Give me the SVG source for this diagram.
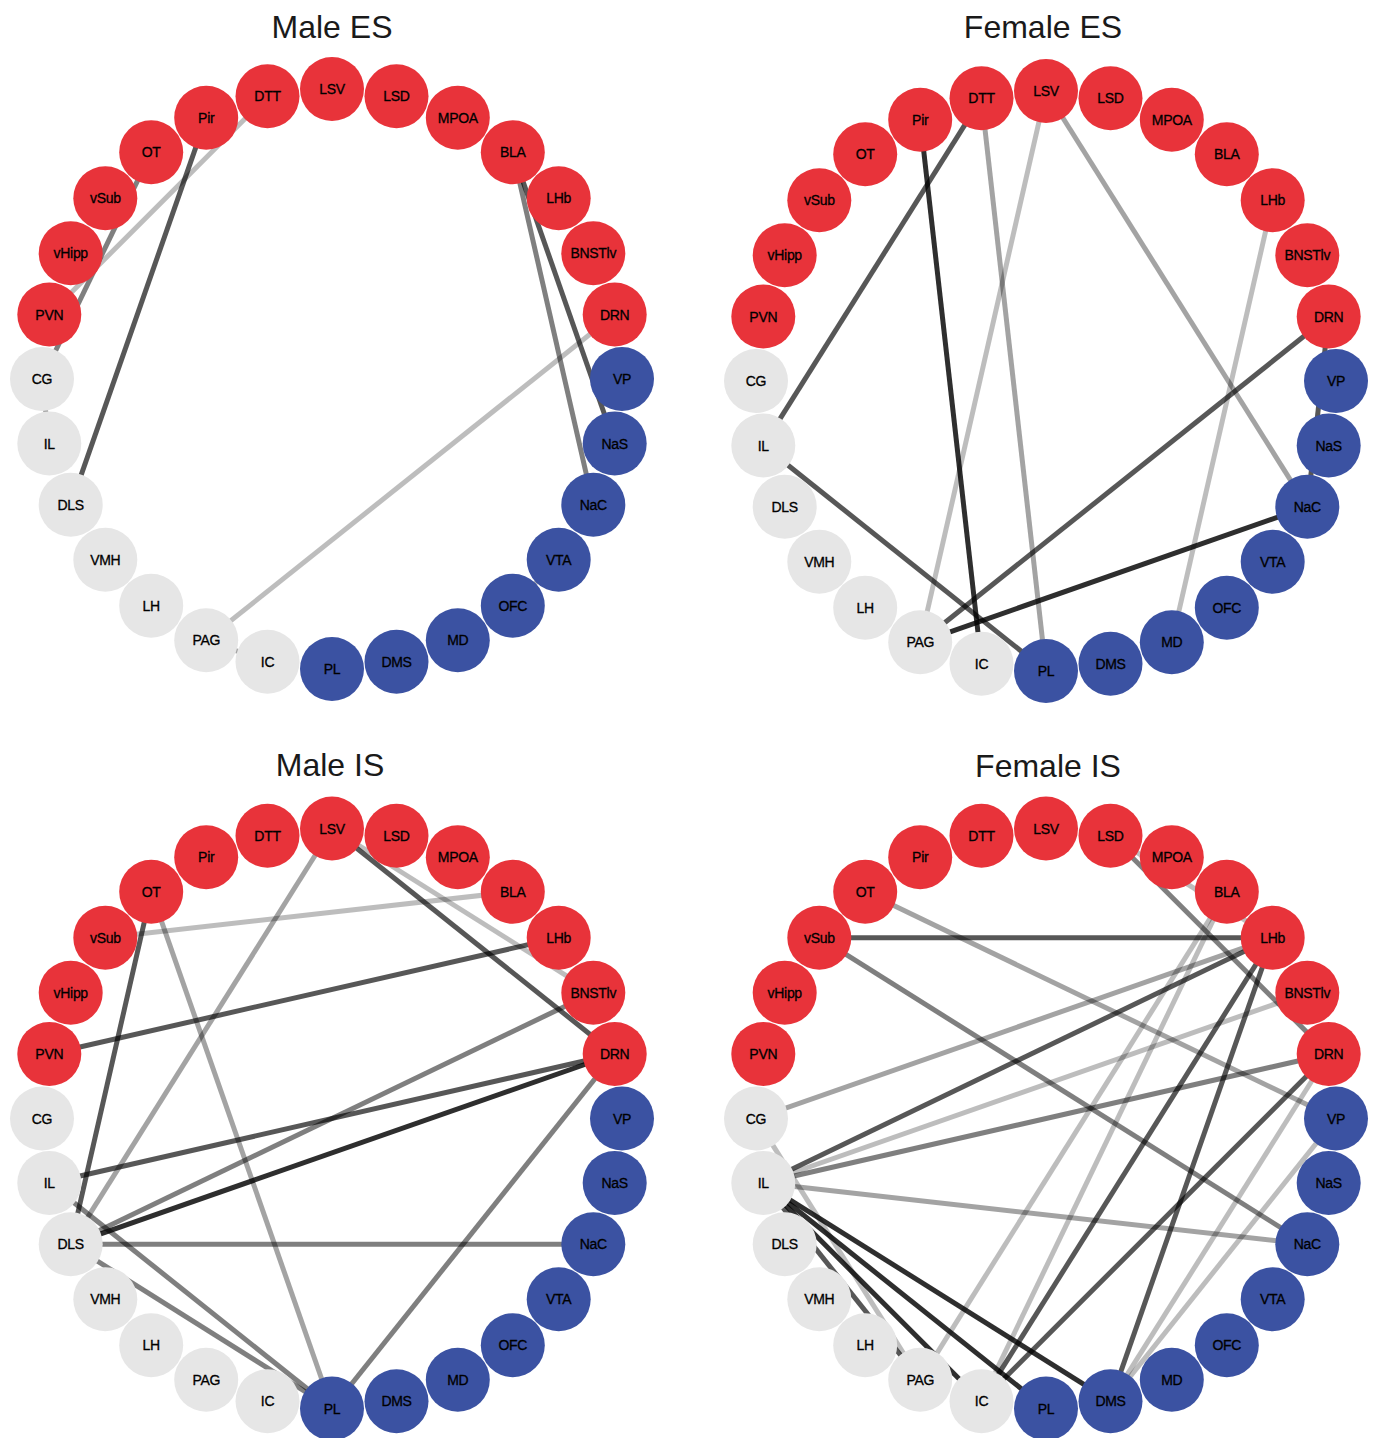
<svg xmlns="http://www.w3.org/2000/svg" width="1376" height="1438" viewBox="0 0 1376 1438">
<style>
.title{font-family:"Liberation Sans",Arial,sans-serif;font-size:32px;fill:#1a1a1a;text-anchor:middle}
.r{fill:#e8333a}
.b{fill:#3b52a2}
.g{fill:#e6e6e6}
.nodes text{font-family:"Liberation Sans",Arial,sans-serif;font-size:14px;fill:#000;stroke:#000;stroke-width:0.3px;text-anchor:middle;letter-spacing:-0.3px}
.edges line{stroke:#000;stroke-width:5;fill:none}
.w1{stroke-opacity:.26}
.w2{stroke-opacity:.36}
.w3{stroke-opacity:.5}
.w4{stroke-opacity:.66}
.w5{stroke-opacity:.82}
.thin{stroke-width:2.5}
</style>
<rect width="1376" height="1438" fill="#fff"/>
<text class="title" x="332" y="38">Male ES</text>
<text class="title" x="1043" y="38">Female ES</text>
<text class="title" x="330" y="776">Male IS</text>
<text class="title" x="1048" y="777">Female IS</text>

<g id="male-es" transform="translate(332,379)">
<g id="mes-edges" class="edges">
<line class="w4" x1="-125.8" y1="-261.3" x2="-261.3" y2="125.8"/>
<line class="w1" x1="-64.5" y1="-282.7" x2="-282.7" y2="-64.5"/>
<line class="w3" x1="-180.8" y1="-226.7" x2="-290" y2="0"/>
<line class="w4" x1="180.8" y1="-226.7" x2="282.7" y2="64.5"/>
<line class="w3" x1="180.8" y1="-226.7" x2="261.3" y2="125.8"/>
<line class="w1" x1="282.7" y1="-64.5" x2="-125.8" y2="261.3"/>
<line class="w2" x1="-290" y1="0" x2="-282.7" y2="64.5"/>
<line class="w2" x1="-125.8" y1="261.3" x2="-64.5" y2="282.7"/>
<line class="w1" x1="226.7" y1="180.8" x2="180.8" y2="226.7"/>
</g>
<g id="mes-nodes" class="nodes">
<g id="mes-LSV"><circle class="r" cx="0" cy="-290" r="32"/><text x="0" y="-285">LSV</text></g>
<g id="mes-LSD"><circle class="r" cx="64.5" cy="-282.7" r="32"/><text x="64.5" y="-277.7">LSD</text></g>
<g id="mes-MPOA"><circle class="r" cx="125.8" cy="-261.3" r="32"/><text x="125.8" y="-256.3">MPOA</text></g>
<g id="mes-BLA"><circle class="r" cx="180.8" cy="-226.7" r="32"/><text x="180.8" y="-221.7">BLA</text></g>
<g id="mes-LHb"><circle class="r" cx="226.7" cy="-180.8" r="32"/><text x="226.7" y="-175.8">LHb</text></g>
<g id="mes-BNSTlv"><circle class="r" cx="261.3" cy="-125.8" r="32"/><text x="261.3" y="-120.8">BNSTlv</text></g>
<g id="mes-DRN"><circle class="r" cx="282.7" cy="-64.5" r="32"/><text x="282.7" y="-59.5">DRN</text></g>
<g id="mes-VP"><circle class="b" cx="290" cy="0" r="32"/><text x="290" y="5">VP</text></g>
<g id="mes-NaS"><circle class="b" cx="282.7" cy="64.5" r="32"/><text x="282.7" y="69.5">NaS</text></g>
<g id="mes-NaC"><circle class="b" cx="261.3" cy="125.8" r="32"/><text x="261.3" y="130.8">NaC</text></g>
<g id="mes-VTA"><circle class="b" cx="226.7" cy="180.8" r="32"/><text x="226.7" y="185.8">VTA</text></g>
<g id="mes-OFC"><circle class="b" cx="180.8" cy="226.7" r="32"/><text x="180.8" y="231.7">OFC</text></g>
<g id="mes-MD"><circle class="b" cx="125.8" cy="261.3" r="32"/><text x="125.8" y="266.3">MD</text></g>
<g id="mes-DMS"><circle class="b" cx="64.5" cy="282.7" r="32"/><text x="64.5" y="287.7">DMS</text></g>
<g id="mes-PL"><circle class="b" cx="0" cy="290" r="32"/><text x="0" y="295">PL</text></g>
<g id="mes-IC"><circle class="g" cx="-64.5" cy="282.7" r="32"/><text x="-64.5" y="287.7">IC</text></g>
<g id="mes-PAG"><circle class="g" cx="-125.8" cy="261.3" r="32"/><text x="-125.8" y="266.3">PAG</text></g>
<g id="mes-LH"><circle class="g" cx="-180.8" cy="226.7" r="32"/><text x="-180.8" y="231.7">LH</text></g>
<g id="mes-VMH"><circle class="g" cx="-226.7" cy="180.8" r="32"/><text x="-226.7" y="185.8">VMH</text></g>
<g id="mes-DLS"><circle class="g" cx="-261.3" cy="125.8" r="32"/><text x="-261.3" y="130.8">DLS</text></g>
<g id="mes-IL"><circle class="g" cx="-282.7" cy="64.5" r="32"/><text x="-282.7" y="69.5">IL</text></g>
<g id="mes-CG"><circle class="g" cx="-290" cy="0" r="32"/><text x="-290" y="5">CG</text></g>
<g id="mes-PVN"><circle class="r" cx="-282.7" cy="-64.5" r="32"/><text x="-282.7" y="-59.5">PVN</text></g>
<g id="mes-vHipp"><circle class="r" cx="-261.3" cy="-125.8" r="32"/><text x="-261.3" y="-120.8">vHipp</text></g>
<g id="mes-vSub"><circle class="r" cx="-226.7" cy="-180.8" r="32"/><text x="-226.7" y="-175.8">vSub</text></g>
<g id="mes-OT"><circle class="r" cx="-180.8" cy="-226.7" r="32"/><text x="-180.8" y="-221.7">OT</text></g>
<g id="mes-Pir"><circle class="r" cx="-125.8" cy="-261.3" r="32"/><text x="-125.8" y="-256.3">Pir</text></g>
<g id="mes-DTT"><circle class="r" cx="-64.5" cy="-282.7" r="32"/><text x="-64.5" y="-277.7">DTT</text></g>
</g>
</g>

<g id="female-es" transform="translate(1046,381)">
<g id="fes-edges" class="edges">
<line class="w4" x1="-64.5" y1="-282.7" x2="-282.7" y2="64.5"/>
<line class="w5" x1="-125.8" y1="-261.3" x2="-64.5" y2="282.7"/>
<line class="w2" x1="-64.5" y1="-282.7" x2="0" y2="290"/>
<line class="w1" x1="0" y1="-290" x2="-125.8" y2="261.3"/>
<line class="w4" x1="-282.7" y1="64.5" x2="0" y2="290"/>
<line class="w4" x1="282.7" y1="-64.5" x2="-125.8" y2="261.3"/>
<line class="w5" x1="261.3" y1="125.8" x2="-125.8" y2="261.3"/>
<line class="w2" x1="0" y1="-290" x2="261.3" y2="125.8"/>
<line class="w1" x1="226.7" y1="-180.8" x2="125.8" y2="261.3"/>
<line class="w4" x1="282.7" y1="-64.5" x2="261.3" y2="125.8"/>
</g>
<g id="fes-nodes" class="nodes">
<g id="fes-LSV"><circle class="r" cx="0" cy="-290" r="32"/><text x="0" y="-285">LSV</text></g>
<g id="fes-LSD"><circle class="r" cx="64.5" cy="-282.7" r="32"/><text x="64.5" y="-277.7">LSD</text></g>
<g id="fes-MPOA"><circle class="r" cx="125.8" cy="-261.3" r="32"/><text x="125.8" y="-256.3">MPOA</text></g>
<g id="fes-BLA"><circle class="r" cx="180.8" cy="-226.7" r="32"/><text x="180.8" y="-221.7">BLA</text></g>
<g id="fes-LHb"><circle class="r" cx="226.7" cy="-180.8" r="32"/><text x="226.7" y="-175.8">LHb</text></g>
<g id="fes-BNSTlv"><circle class="r" cx="261.3" cy="-125.8" r="32"/><text x="261.3" y="-120.8">BNSTlv</text></g>
<g id="fes-DRN"><circle class="r" cx="282.7" cy="-64.5" r="32"/><text x="282.7" y="-59.5">DRN</text></g>
<g id="fes-VP"><circle class="b" cx="290" cy="0" r="32"/><text x="290" y="5">VP</text></g>
<g id="fes-NaS"><circle class="b" cx="282.7" cy="64.5" r="32"/><text x="282.7" y="69.5">NaS</text></g>
<g id="fes-NaC"><circle class="b" cx="261.3" cy="125.8" r="32"/><text x="261.3" y="130.8">NaC</text></g>
<g id="fes-VTA"><circle class="b" cx="226.7" cy="180.8" r="32"/><text x="226.7" y="185.8">VTA</text></g>
<g id="fes-OFC"><circle class="b" cx="180.8" cy="226.7" r="32"/><text x="180.8" y="231.7">OFC</text></g>
<g id="fes-MD"><circle class="b" cx="125.8" cy="261.3" r="32"/><text x="125.8" y="266.3">MD</text></g>
<g id="fes-DMS"><circle class="b" cx="64.5" cy="282.7" r="32"/><text x="64.5" y="287.7">DMS</text></g>
<g id="fes-PL"><circle class="b" cx="0" cy="290" r="32"/><text x="0" y="295">PL</text></g>
<g id="fes-IC"><circle class="g" cx="-64.5" cy="282.7" r="32"/><text x="-64.5" y="287.7">IC</text></g>
<g id="fes-PAG"><circle class="g" cx="-125.8" cy="261.3" r="32"/><text x="-125.8" y="266.3">PAG</text></g>
<g id="fes-LH"><circle class="g" cx="-180.8" cy="226.7" r="32"/><text x="-180.8" y="231.7">LH</text></g>
<g id="fes-VMH"><circle class="g" cx="-226.7" cy="180.8" r="32"/><text x="-226.7" y="185.8">VMH</text></g>
<g id="fes-DLS"><circle class="g" cx="-261.3" cy="125.8" r="32"/><text x="-261.3" y="130.8">DLS</text></g>
<g id="fes-IL"><circle class="g" cx="-282.7" cy="64.5" r="32"/><text x="-282.7" y="69.5">IL</text></g>
<g id="fes-CG"><circle class="g" cx="-290" cy="0" r="32"/><text x="-290" y="5">CG</text></g>
<g id="fes-PVN"><circle class="r" cx="-282.7" cy="-64.5" r="32"/><text x="-282.7" y="-59.5">PVN</text></g>
<g id="fes-vHipp"><circle class="r" cx="-261.3" cy="-125.8" r="32"/><text x="-261.3" y="-120.8">vHipp</text></g>
<g id="fes-vSub"><circle class="r" cx="-226.7" cy="-180.8" r="32"/><text x="-226.7" y="-175.8">vSub</text></g>
<g id="fes-OT"><circle class="r" cx="-180.8" cy="-226.7" r="32"/><text x="-180.8" y="-221.7">OT</text></g>
<g id="fes-Pir"><circle class="r" cx="-125.8" cy="-261.3" r="32"/><text x="-125.8" y="-256.3">Pir</text></g>
<g id="fes-DTT"><circle class="r" cx="-64.5" cy="-282.7" r="32"/><text x="-64.5" y="-277.7">DTT</text></g>
</g>
</g>

<g id="male-is" transform="translate(332,1118.5)">
<g id="mis-edges" class="edges">
<line class="w2" x1="0" y1="-290" x2="-261.3" y2="125.8"/>
<line class="w1" x1="-226.7" y1="-180.8" x2="180.8" y2="-226.7"/>
<line class="w4" x1="-180.8" y1="-226.7" x2="-261.3" y2="125.8"/>
<line class="w2" x1="-180.8" y1="-226.7" x2="0" y2="290"/>
<line class="w4" x1="-282.7" y1="-64.5" x2="226.7" y2="-180.8"/>
<line class="w4" x1="-282.7" y1="64.5" x2="282.7" y2="-64.5"/>
<line class="w5" x1="-261.3" y1="125.8" x2="282.7" y2="-64.5"/>
<line class="w3" x1="-261.3" y1="125.8" x2="261.3" y2="-125.8"/>
<line class="w3" x1="-261.3" y1="125.8" x2="261.3" y2="125.8"/>
<line class="w3" x1="-282.7" y1="64.5" x2="0" y2="290"/>
<line class="w3" x1="-261.3" y1="125.8" x2="0" y2="290"/>
<line class="w4" x1="0" y1="-290" x2="282.7" y2="-64.5"/>
<line class="w1" x1="0" y1="-290" x2="261.3" y2="-125.8"/>
<line class="w3" x1="282.7" y1="-64.5" x2="0" y2="290"/>
</g>
<g id="mis-nodes" class="nodes">
<g id="mis-LSV"><circle class="r" cx="0" cy="-290" r="32"/><text x="0" y="-285">LSV</text></g>
<g id="mis-LSD"><circle class="r" cx="64.5" cy="-282.7" r="32"/><text x="64.5" y="-277.7">LSD</text></g>
<g id="mis-MPOA"><circle class="r" cx="125.8" cy="-261.3" r="32"/><text x="125.8" y="-256.3">MPOA</text></g>
<g id="mis-BLA"><circle class="r" cx="180.8" cy="-226.7" r="32"/><text x="180.8" y="-221.7">BLA</text></g>
<g id="mis-LHb"><circle class="r" cx="226.7" cy="-180.8" r="32"/><text x="226.7" y="-175.8">LHb</text></g>
<g id="mis-BNSTlv"><circle class="r" cx="261.3" cy="-125.8" r="32"/><text x="261.3" y="-120.8">BNSTlv</text></g>
<g id="mis-DRN"><circle class="r" cx="282.7" cy="-64.5" r="32"/><text x="282.7" y="-59.5">DRN</text></g>
<g id="mis-VP"><circle class="b" cx="290" cy="0" r="32"/><text x="290" y="5">VP</text></g>
<g id="mis-NaS"><circle class="b" cx="282.7" cy="64.5" r="32"/><text x="282.7" y="69.5">NaS</text></g>
<g id="mis-NaC"><circle class="b" cx="261.3" cy="125.8" r="32"/><text x="261.3" y="130.8">NaC</text></g>
<g id="mis-VTA"><circle class="b" cx="226.7" cy="180.8" r="32"/><text x="226.7" y="185.8">VTA</text></g>
<g id="mis-OFC"><circle class="b" cx="180.8" cy="226.7" r="32"/><text x="180.8" y="231.7">OFC</text></g>
<g id="mis-MD"><circle class="b" cx="125.8" cy="261.3" r="32"/><text x="125.8" y="266.3">MD</text></g>
<g id="mis-DMS"><circle class="b" cx="64.5" cy="282.7" r="32"/><text x="64.5" y="287.7">DMS</text></g>
<g id="mis-PL"><circle class="b" cx="0" cy="290" r="32"/><text x="0" y="295">PL</text></g>
<g id="mis-IC"><circle class="g" cx="-64.5" cy="282.7" r="32"/><text x="-64.5" y="287.7">IC</text></g>
<g id="mis-PAG"><circle class="g" cx="-125.8" cy="261.3" r="32"/><text x="-125.8" y="266.3">PAG</text></g>
<g id="mis-LH"><circle class="g" cx="-180.8" cy="226.7" r="32"/><text x="-180.8" y="231.7">LH</text></g>
<g id="mis-VMH"><circle class="g" cx="-226.7" cy="180.8" r="32"/><text x="-226.7" y="185.8">VMH</text></g>
<g id="mis-DLS"><circle class="g" cx="-261.3" cy="125.8" r="32"/><text x="-261.3" y="130.8">DLS</text></g>
<g id="mis-IL"><circle class="g" cx="-282.7" cy="64.5" r="32"/><text x="-282.7" y="69.5">IL</text></g>
<g id="mis-CG"><circle class="g" cx="-290" cy="0" r="32"/><text x="-290" y="5">CG</text></g>
<g id="mis-PVN"><circle class="r" cx="-282.7" cy="-64.5" r="32"/><text x="-282.7" y="-59.5">PVN</text></g>
<g id="mis-vHipp"><circle class="r" cx="-261.3" cy="-125.8" r="32"/><text x="-261.3" y="-120.8">vHipp</text></g>
<g id="mis-vSub"><circle class="r" cx="-226.7" cy="-180.8" r="32"/><text x="-226.7" y="-175.8">vSub</text></g>
<g id="mis-OT"><circle class="r" cx="-180.8" cy="-226.7" r="32"/><text x="-180.8" y="-221.7">OT</text></g>
<g id="mis-Pir"><circle class="r" cx="-125.8" cy="-261.3" r="32"/><text x="-125.8" y="-256.3">Pir</text></g>
<g id="mis-DTT"><circle class="r" cx="-64.5" cy="-282.7" r="32"/><text x="-64.5" y="-277.7">DTT</text></g>
</g>
</g>

<g id="female-is" transform="translate(1046,1118.5)">
<g id="fis-edges" class="edges">
<line class="w4" x1="-226.7" y1="-180.8" x2="226.7" y2="-180.8"/>
<line class="w3" x1="-226.7" y1="-180.8" x2="261.3" y2="125.8"/>
<line class="w2" x1="-180.8" y1="-226.7" x2="290" y2="0"/>
<line class="w2" x1="-290" y1="0" x2="226.7" y2="-180.8"/>
<line class="w4" x1="-282.7" y1="64.5" x2="226.7" y2="-180.8"/>
<line class="w1" x1="-282.7" y1="64.5" x2="261.3" y2="-125.8"/>
<line class="w3" x1="-282.7" y1="64.5" x2="282.7" y2="-64.5"/>
<line class="w2" x1="-282.7" y1="64.5" x2="261.3" y2="125.8"/>
<line class="w5" x1="-282.7" y1="64.5" x2="64.5" y2="282.7"/>
<line class="w5" x1="-282.7" y1="64.5" x2="0" y2="290"/>
<line class="w5" x1="-282.7" y1="64.5" x2="-64.5" y2="282.7"/>
<line class="w4 thin" x1="-282.7" y1="64.5" x2="-125.8" y2="261.3"/>
<line class="w1" x1="-290" y1="0" x2="-125.8" y2="261.3"/>
<line class="w4" x1="226.7" y1="-180.8" x2="64.5" y2="282.7"/>
<line class="w4" x1="226.7" y1="-180.8" x2="-64.5" y2="282.7"/>
<line class="w1" x1="180.8" y1="-226.7" x2="-125.8" y2="261.3"/>
<line class="w1" x1="180.8" y1="-226.7" x2="-64.5" y2="282.7"/>
<line class="w4" x1="282.7" y1="-64.5" x2="-64.5" y2="282.7"/>
<line class="w1" x1="282.7" y1="-64.5" x2="64.5" y2="282.7"/>
<line class="w1" x1="290" y1="0" x2="64.5" y2="282.7"/>
<line class="w3" x1="64.5" y1="-282.7" x2="282.7" y2="-64.5"/>
<line class="w1" x1="64.5" y1="-282.7" x2="226.7" y2="-180.8"/>
</g>
<g id="fis-nodes" class="nodes">
<g id="fis-LSV"><circle class="r" cx="0" cy="-290" r="32"/><text x="0" y="-285">LSV</text></g>
<g id="fis-LSD"><circle class="r" cx="64.5" cy="-282.7" r="32"/><text x="64.5" y="-277.7">LSD</text></g>
<g id="fis-MPOA"><circle class="r" cx="125.8" cy="-261.3" r="32"/><text x="125.8" y="-256.3">MPOA</text></g>
<g id="fis-BLA"><circle class="r" cx="180.8" cy="-226.7" r="32"/><text x="180.8" y="-221.7">BLA</text></g>
<g id="fis-LHb"><circle class="r" cx="226.7" cy="-180.8" r="32"/><text x="226.7" y="-175.8">LHb</text></g>
<g id="fis-BNSTlv"><circle class="r" cx="261.3" cy="-125.8" r="32"/><text x="261.3" y="-120.8">BNSTlv</text></g>
<g id="fis-DRN"><circle class="r" cx="282.7" cy="-64.5" r="32"/><text x="282.7" y="-59.5">DRN</text></g>
<g id="fis-VP"><circle class="b" cx="290" cy="0" r="32"/><text x="290" y="5">VP</text></g>
<g id="fis-NaS"><circle class="b" cx="282.7" cy="64.5" r="32"/><text x="282.7" y="69.5">NaS</text></g>
<g id="fis-NaC"><circle class="b" cx="261.3" cy="125.8" r="32"/><text x="261.3" y="130.8">NaC</text></g>
<g id="fis-VTA"><circle class="b" cx="226.7" cy="180.8" r="32"/><text x="226.7" y="185.8">VTA</text></g>
<g id="fis-OFC"><circle class="b" cx="180.8" cy="226.7" r="32"/><text x="180.8" y="231.7">OFC</text></g>
<g id="fis-MD"><circle class="b" cx="125.8" cy="261.3" r="32"/><text x="125.8" y="266.3">MD</text></g>
<g id="fis-DMS"><circle class="b" cx="64.5" cy="282.7" r="32"/><text x="64.5" y="287.7">DMS</text></g>
<g id="fis-PL"><circle class="b" cx="0" cy="290" r="32"/><text x="0" y="295">PL</text></g>
<g id="fis-IC"><circle class="g" cx="-64.5" cy="282.7" r="32"/><text x="-64.5" y="287.7">IC</text></g>
<g id="fis-PAG"><circle class="g" cx="-125.8" cy="261.3" r="32"/><text x="-125.8" y="266.3">PAG</text></g>
<g id="fis-LH"><circle class="g" cx="-180.8" cy="226.7" r="32"/><text x="-180.8" y="231.7">LH</text></g>
<g id="fis-VMH"><circle class="g" cx="-226.7" cy="180.8" r="32"/><text x="-226.7" y="185.8">VMH</text></g>
<g id="fis-DLS"><circle class="g" cx="-261.3" cy="125.8" r="32"/><text x="-261.3" y="130.8">DLS</text></g>
<g id="fis-IL"><circle class="g" cx="-282.7" cy="64.5" r="32"/><text x="-282.7" y="69.5">IL</text></g>
<g id="fis-CG"><circle class="g" cx="-290" cy="0" r="32"/><text x="-290" y="5">CG</text></g>
<g id="fis-PVN"><circle class="r" cx="-282.7" cy="-64.5" r="32"/><text x="-282.7" y="-59.5">PVN</text></g>
<g id="fis-vHipp"><circle class="r" cx="-261.3" cy="-125.8" r="32"/><text x="-261.3" y="-120.8">vHipp</text></g>
<g id="fis-vSub"><circle class="r" cx="-226.7" cy="-180.8" r="32"/><text x="-226.7" y="-175.8">vSub</text></g>
<g id="fis-OT"><circle class="r" cx="-180.8" cy="-226.7" r="32"/><text x="-180.8" y="-221.7">OT</text></g>
<g id="fis-Pir"><circle class="r" cx="-125.8" cy="-261.3" r="32"/><text x="-125.8" y="-256.3">Pir</text></g>
<g id="fis-DTT"><circle class="r" cx="-64.5" cy="-282.7" r="32"/><text x="-64.5" y="-277.7">DTT</text></g>
</g>
</g>
</svg>
